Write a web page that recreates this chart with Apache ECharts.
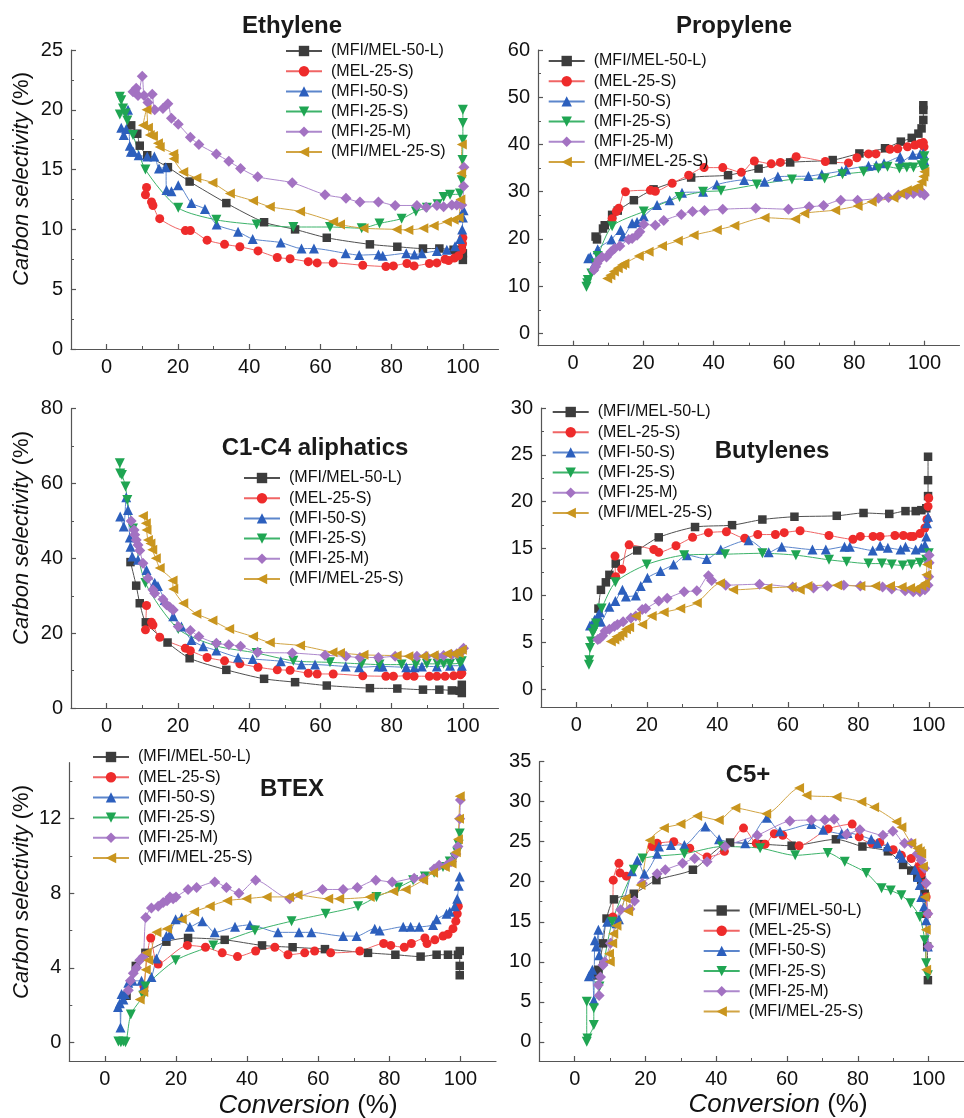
<!DOCTYPE html>
<html>
<head>
<meta charset="utf-8">
<script src="https://cdn.jsdelivr.net/npm/echarts@6/dist/echarts.min.js"></script>
<style>
html,body{margin:0;padding:0;background:#fff;}
#chart{width:964px;height:1118px;}
</style>
</head>
<body>
<div id="chart"></div>
<script>
// ---------------- DATA ----------------
const seriesNames = ['(MFI/MEL-50-L)', '(MEL-25-S)', '(MFI-50-S)', '(MFI-25-S)', '(MFI-25-M)', '(MFI/MEL-25-S)'];
const panelTitles = ['Ethylene', 'Propylene', 'C1-C4 aliphatics', 'Butylenes', 'BTEX', 'C5+'];
const xTickLabels = [0, 20, 40, 60, 80, 100];
const xMinorTicks = [10, 30, 50, 70, 90];
const yTicksEthylene = [0, 5, 10, 15, 20, 25];
const yTicksPropylene = [0, 10, 20, 30, 40, 50, 60];
const yTicksC1C4 = [0, 20, 40, 60, 80];
const yTicksButylenes = [0, 5, 10, 15, 20, 25, 30];
const yTicksBTEX = [0, 4, 8, 12];
const yTicksC5 = [0, 5, 10, 15, 20, 25, 30, 35];
const xAxisName = 'Conversion';
const yAxisName = 'Carbon selectivity';
const unitName = '(%)';

// Ethylene
const ethMFIMEL50L = [[6.9,18.7],[8.6,18.0],[9.3,17.0],[11.4,16.2],[17.2,15.2],[23.3,14.0],[33.6,12.2],[44.2,10.6],[52.9,10.0],[61.8,9.3],[73.9,8.75],[81.6,8.55],[88.8,8.4],[93.4,8.4],[97.4,8.3],[99.7,8.3],[100,8.0],[100,7.45]];
const ethMEL25S = [[11.2,13.5],[10.9,12.9],[12.6,12.3],[13.0,12.0],[14.9,10.9],[22.1,9.9],[23.5,9.9],[28.2,9.1],[33.1,8.75],[37.4,8.55],[42.5,8.2],[47.9,7.65],[51.5,7.55],[56.6,7.3],[59.1,7.2],[63.6,7.2],[71.9,7.0],[78.4,6.9],[80.5,6.95],[84.3,7.15],[86.3,6.95],[90.6,7.15],[92.7,7.2],[95.0,7.5],[96.0,7.4],[97.6,7.6],[98.8,7.8],[99.7,8.3],[99.9,8.8],[100,9.3]];
const ethMFI50S = [[4.1,18.5],[4.8,17.9],[5.5,18.4],[6.0,20.0],[6.5,17.0],[6.8,16.5],[7.5,16.5],[9.0,16.2],[11.4,16.1],[13.4,16.1],[14.7,15.1],[16.6,15.2],[16.8,13.3],[18.2,13.2],[20.1,13.7],[23.8,12.2],[27.6,11.7],[30.9,10.4],[36.9,9.8],[41.0,9.2],[48.9,8.9],[54.7,8.4],[58.2,8.4],[67.1,8.0],[70.9,7.85],[76.3,7.9],[77.5,7.8],[84.1,8.0],[86.4,7.9],[88.5,8.0],[92.7,8.2],[95.5,8.3],[97.8,8.6],[99.2,9.2],[99.8,10.0],[100,11.0],[100.2,11.6]];
const ethMFI25S = [[3.7,21.1],[4.1,20.8],[4.6,20.1],[3.7,19.6],[5.3,19.7],[5.8,19.1],[7.4,17.9],[10.9,15.0],[20.1,11.8],[30.8,10.8],[42.1,10.4],[52.4,10.2],[62.7,10.2],[71.6,10.1],[76.6,10.5],[82.8,10.9],[86.8,11.5],[89.9,11.8],[92.9,12.1],[94.6,12.7],[96.4,12.9],[99.2,13.0],[99.7,14.1],[99.9,15.8],[100,17.5],[100,18.9],[100,20.0]];
const ethMFI25M = [[7.4,21.5],[8.3,21.8],[8.8,21.2],[10.0,22.8],[10.5,21.2],[11.6,20.6],[12.8,21.3],[13.5,20.0],[15.8,20.1],[17.2,20.5],[18.2,19.3],[20.1,18.8],[23.5,17.7],[25.9,17.1],[30.8,16.3],[34.3,15.7],[37.6,15.1],[42.4,14.4],[52.1,13.9],[61.3,12.9],[67.2,12.6],[71.1,12.3],[76.3,12.3],[81.0,12.0],[87.1,12.0],[89.7,11.85],[92.7,12.0],[94.6,11.9],[96.9,12.05],[98.3,12.05],[99.7,12.05],[100.2,13.6],[100.3,15.2]];
const ethMFIMEL25S = [[10.2,18.7],[11.2,20.0],[11.6,18.5],[12.1,17.9],[13.0,17.8],[14.4,17.2],[14.9,16.9],[18.7,16.3],[18.8,15.9],[21.5,14.8],[25.2,14.3],[29.7,13.9],[34.6,13.0],[41.1,12.4],[45.8,11.9],[54.3,11.5],[63.6,10.65],[65.5,10.4],[72.1,10.1],[81.4,10.0],[84.7,9.95],[88.9,10.1],[91.8,10.3],[95.5,10.65],[97.4,10.8],[98.8,11.0],[99.3,12.5],[99.5,14.7],[99.7,17.1]];

// Propylene
const proMFIMEL50L = [[6.4,20.5],[6.8,19.9],[8.5,22.2],[9.0,22.9],[11.1,25.1],[12.7,26.0],[17.3,28.2],[22.9,30.5],[33.6,33.0],[44.1,33.5],[52.8,34.9],[61.8,36.2],[73.9,36.7],[81.5,38.1],[88.8,39.2],[93.3,40.6],[96.4,41.4],[98.3,42.3],[99.2,43.4],[99.7,45.2],[99.7,47.3],[99.7,48.3]];
const proMEL25S = [[11.1,24.3],[12.3,25.8],[13.0,26.5],[14.9,30.0],[22.0,30.3],[23.4,30.1],[28.2,31.8],[32.9,33.5],[37.3,35.1],[42.6,35.1],[47.9,34.1],[51.6,36.5],[56.4,35.9],[59.0,36.2],[63.5,37.4],[71.8,36.4],[78.4,36.1],[80.8,37.2],[84.1,38.0],[86.2,38.0],[90.2,39.0],[92.4,39.1],[95.2,39.5],[97.3,39.9],[98.8,40.2],[99.7,40.4],[99.9,39.5]];
const proMFI50S = [[4.3,15.9],[4.9,16.2],[5.7,14.1],[7.0,17.8],[10.9,19.9],[13.5,21.9],[14.2,20.5],[16.8,23.3],[18.2,23.6],[20.1,24.8],[23.9,27.2],[27.5,28.2],[31.0,29.8],[37.0,30.0],[40.9,31.5],[48.7,32.5],[54.5,32.1],[58.3,33.2],[67.0,33.3],[70.8,33.7],[76.5,34.4],[77.7,34.7],[84.1,35.5],[86.3,35.6],[88.5,36.0],[93.1,37.4],[93.3,36.3],[96.7,37.8],[98.8,38.0],[99.7,38.1],[99.9,36.7]];
const proMFI25S = [[3.8,9.9],[4.0,10.6],[4.2,11.3],[5.2,12.7],[6.4,14.8],[7.0,16.4],[11.1,22.7],[20.1,25.8],[30.3,28.9],[37.0,30.0],[42.1,30.2],[52.3,31.5],[62.3,32.6],[71.6,32.8],[76.7,33.7],[82.7,34.2],[86.9,34.9],[89.5,35.3],[92.9,34.9],[95.0,35.1],[96.9,35.1],[99.2,35.6],[100,36.0],[100,37.5],[100,34.6]];
const proMFI25M = [[5.9,13.4],[6.4,14.1],[6.8,14.8],[7.3,15.5],[8.2,16.2],[9.5,16.2],[10.8,17.3],[11.8,18.0],[13.3,18.5],[15.8,19.9],[16.8,20.1],[18.2,20.8],[19.0,21.5],[20.1,23.1],[23.4,22.9],[25.8,23.9],[30.8,25.2],[34.0,25.8],[37.4,26.0],[42.6,26.3],[52.0,26.5],[61.3,26.3],[67.2,26.8],[71.3,27.1],[76.2,28.2],[81.0,28.2],[86.9,28.6],[89.8,28.8],[92.6,29.3],[95.0,29.4],[96.9,29.6],[98.8,29.8],[99.7,29.6],[100,29.3]];
const proMFIMEL25S = [[9.7,11.6],[10.6,12.3],[11.6,13.1],[12.7,13.8],[13.9,14.5],[14.6,14.8],[18.7,16.4],[21.5,17.3],[25.3,18.5],[29.8,19.6],[34.3,20.8],[40.9,21.9],[45.9,22.8],[54.5,24.5],[63.2,24.2],[65.8,25.4],[74.6,26.1],[81.0,27.0],[85.0,27.9],[91.2,28.7],[93.1,29.6],[95.0,30.3],[96.9,30.7],[98.3,31.1],[99.2,32.1],[99.7,33.2],[100,34.2]];

// C1-C4 aliphatics
const aliMFIMEL50L = [[6.7,39.0],[8.3,32.7],[9.3,28.0],[11.0,22.9],[17.1,17.5],[23.3,13.3],[33.6,10.2],[44.2,7.8],[52.9,6.9],[61.8,6.0],[73.9,5.3],[81.6,5.2],[88.8,4.9],[93.4,4.9],[96.9,4.7],[99.1,4.6],[99.7,6.2],[99.7,4.0]];
const aliMEL25S = [[11.2,27.4],[10.9,20.9],[12.6,22.9],[13.0,22.2],[14.9,18.9],[22.1,16.0],[23.5,15.3],[28.2,13.5],[33.1,12.6],[37.4,11.8],[42.5,10.9],[47.9,10.2],[51.5,10.1],[56.6,9.3],[59.1,9.1],[63.6,9.1],[71.9,8.6],[78.4,8.5],[80.5,8.5],[84.3,8.6],[86.3,8.5],[90.6,8.5],[92.7,8.5],[95.0,8.5],[97.4,8.6],[99.3,8.9],[99.7,9.3]];
const aliMFI50S = [[3.8,51.2],[4.8,48.5],[5.5,56.3],[6.0,52.9],[6.5,45.6],[6.7,43.1],[7.2,40.5],[8.8,39.6],[11.2,36.9],[13.5,33.5],[14.4,32.6],[16.3,28.9],[18.7,24.5],[21.0,21.8],[23.8,18.2],[27.1,16.5],[30.8,15.4],[36.9,13.5],[41.0,13.1],[48.9,12.5],[54.7,11.6],[58.5,11.6],[67.1,11.1],[70.9,10.9],[76.3,11.1],[77.5,11.1],[84.1,10.9],[86.4,10.9],[88.5,11.1],[92.7,11.1],[96.4,11.3],[99.7,11.3]];
const aliMFI25S = [[3.7,65.4],[3.8,62.7],[4.3,62.3],[5.3,59.2],[5.8,55.6],[7.4,48.0],[10.9,33.4],[20.1,21.1],[30.8,16.6],[42.1,14.7],[52.4,12.6],[62.7,12.2],[71.6,11.8],[76.6,11.6],[82.8,11.6],[86.8,11.7],[89.9,11.8],[92.9,11.8],[94.6,11.8],[96.4,11.8],[99.2,12.0],[99.7,12.5]];
const aliMFI25M = [[6.9,50.0],[7.7,47.6],[7.9,46.3],[8.3,44.9],[8.8,43.6],[9.3,42.1],[10.2,38.7],[11.6,34.7],[13.0,31.6],[13.5,30.7],[15.8,29.1],[16.8,27.6],[17.7,27.0],[18.7,26.2],[20.1,21.8],[23.5,20.7],[25.9,19.1],[30.8,17.3],[34.3,16.9],[37.6,16.5],[42.4,14.9],[52.1,14.7],[61.3,14.1],[67.2,13.8],[71.1,13.5],[76.3,13.5],[81.0,13.8],[87.1,13.8],[89.7,13.8],[92.7,13.8],[94.6,14.0],[96.9,14.2],[98.3,14.5],[99.7,15.1],[100.2,16.0]];
const aliMFIMEL25S = [[10.2,51.3],[11.0,49.4],[11.2,47.6],[11.6,44.9],[12.3,44.0],[12.8,42.3],[13.8,40.0],[14.9,37.4],[18.5,34.1],[18.7,31.8],[21.5,28.0],[25.2,25.2],[29.7,23.4],[34.4,21.1],[41.1,19.1],[45.8,17.5],[54.3,16.7],[63.4,14.9],[65.5,14.7],[72.1,14.2],[81.4,14.0],[84.7,13.8],[88.9,13.8],[91.8,14.1],[95.5,14.5],[97.4,14.5],[98.8,14.7],[99.7,15.6]];

// Butylenes
const butMFIMEL50L = [[6.3,8.6],[7.0,10.6],[8.4,11.4],[9.4,12.2],[11.2,13.4],[17.3,14.8],[23.4,16.2],[33.7,17.3],[44.2,17.5],[52.8,18.1],[61.9,18.4],[73.9,18.5],[81.5,18.8],[88.8,18.7],[93.4,19.0],[96.3,19.0],[97.9,19.1],[99.3,19.3],[99.8,20.6],[99.8,22.3],[99.8,24.8]];
const butMEL25S = [[11.0,14.2],[11.2,12.0],[12.9,12.8],[15.0,15.4],[22.0,14.9],[23.4,14.6],[28.3,15.3],[33.0,16.2],[37.5,16.7],[42.6,16.8],[47.8,16.1],[51.5,16.5],[56.5,16.5],[59.0,16.7],[63.5,16.9],[71.7,16.4],[78.5,16.0],[80.6,16.3],[84.2,16.3],[86.2,16.3],[90.4,16.4],[92.8,16.4],[94.8,16.3],[95.6,16.3],[97.5,16.6],[98.9,17.2],[99.5,18.1],[99.8,19.5],[100,20.4]];
const butMFI50S = [[3.9,6.8],[4.7,7.0],[5.2,7.4],[6.1,7.8],[6.7,8.2],[7.0,7.2],[9.4,8.8],[11.1,9.4],[13.1,10.6],[14.1,9.9],[16.9,10.0],[18.3,11.0],[20.2,11.9],[23.9,12.6],[27.6,13.3],[31.4,14.3],[37.0,13.9],[41.0,14.9],[48.9,15.9],[54.6,14.6],[58.3,15.2],[67.0,14.9],[70.8,14.9],[76.1,15.2],[77.6,15.2],[84.1,14.8],[86.2,15.3],[88.4,15.1],[92.0,14.9],[93.4,15.2],[96.3,14.9],[97.9,15.1],[98.9,15.4],[99.3,16.3],[99.5,17.7],[99.8,18.4]];
const butMFI25S = [[3.6,2.6],[3.7,3.1],[3.9,4.4],[4.2,5.1],[4.7,6.0],[5.2,6.4],[5.6,7.0],[7.2,8.6],[11.1,11.4],[20.0,13.3],[30.6,14.3],[42.2,14.4],[52.8,14.5],[62.3,14.3],[71.7,13.8],[76.7,13.6],[82.9,13.4],[86.7,13.4],[89.5,13.3],[92.6,13.2],[95.1,13.3],[97.5,13.5],[99.3,13.8],[100,14.5]];
const butMFI25M = [[6.1,5.3],[6.7,5.4],[7.5,5.7],[8.2,6.2],[9.4,6.4],[10.8,6.7],[11.7,6.9],[13.3,7.2],[15.5,7.6],[16.9,7.8],[18.7,8.5],[19.7,8.6],[23.4,9.4],[25.8,9.7],[30.6,10.4],[34.2,10.5],[37.5,12.1],[38.4,11.6],[42.4,11.1],[52.0,11.2],[61.4,10.9],[67.3,10.8],[71.2,11.0],[75.9,11.1],[80.6,11.0],[86.9,10.9],[89.5,10.7],[93.3,10.5],[95.6,10.4],[97.5,10.4],[98.9,10.6],[99.8,11.1],[100,12.0],[100.1,13.5],[100.1,14.3]];
const butMFIMEL25S = [[9.8,5.1],[10.8,5.3],[11.4,5.6],[12.2,5.7],[13.1,6.0],[14.1,6.4],[15.0,6.6],[16.9,7.8],[18.7,6.9],[21.4,7.8],[24.8,8.2],[29.5,8.6],[34.2,9.2],[40.8,11.3],[44.5,10.6],[54.2,10.8],[61.1,10.9],[63.4,10.6],[65.6,11.0],[74.0,11.1],[80.6,11.0],[84.8,11.0],[89.0,11.0],[92.3,10.9],[94.7,10.8],[96.3,10.7],[97.9,11.0],[98.9,11.3],[99.3,12.2],[99.5,13.3]];

// BTEX
const btxMFIMEL50L = [[6.1,2.5],[8.7,4.1],[11.4,4.8],[17.3,5.4],[23.4,5.6],[33.7,5.5],[44.2,5.2],[52.8,5.1],[61.9,5.0],[74.0,4.8],[81.7,4.7],[88.8,4.6],[93.3,4.7],[96.5,4.7],[99.3,4.7],[99.8,4.9],[99.8,4.1],[99.8,3.6]];
const btxMEL25S = [[11.0,3.0],[12.9,5.6],[15.0,4.2],[23.2,5.2],[28.3,5.1],[33.0,4.8],[37.3,4.6],[42.4,4.9],[47.8,5.1],[51.5,4.7],[56.2,4.8],[59.0,4.9],[63.5,4.8],[71.7,4.9],[78.4,5.3],[80.4,5.2],[84.2,5.1],[86.2,5.3],[90.0,5.6],[90.6,5.3],[92.8,5.5],[95.1,5.7],[96.5,5.8],[97.9,6.1],[98.7,6.5],[99.1,6.9],[99.4,7.3]];
const btxMFI50S = [[3.7,1.9],[4.2,2.1],[4.4,0.8],[4.7,2.6],[5.2,2.3],[5.6,2.6],[6.6,3.2],[7.8,3.3],[10.3,3.3],[11.0,3.0],[13.1,3.5],[14.5,4.5],[17.3,5.7],[18.3,5.8],[19.9,6.6],[21.6,6.7],[23.9,6.2],[27.4,6.5],[30.9,5.9],[36.6,6.2],[40.8,6.3],[48.7,5.9],[54.6,5.9],[58.1,5.9],[67.0,5.7],[70.8,5.7],[75.9,6.1],[77.3,6.0],[83.9,6.2],[86.0,6.2],[88.4,6.2],[92.3,6.3],[93.3,6.6],[96.1,6.9],[97.0,7.0],[98.4,7.3],[99.1,7.7],[99.5,8.4],[99.8,8.9]];
const btxMFI25S = [[3.8,0.05],[4.5,0.0],[5.2,0.05],[5.8,0.0],[7.3,1.5],[10.8,2.5],[11.4,3.0],[19.9,4.4],[30.5,5.2],[42.2,6.0],[52.5,6.5],[62.1,6.9],[71.2,7.3],[76.4,7.8],[82.5,8.3],[86.7,8.7],[90.0,8.9],[92.6,9.1],[95.1,9.4],[97.0,9.7],[98.4,9.9],[99.1,10.2],[99.5,10.6],[99.8,11.2]];
const btxMFI25M = [[6.6,2.8],[7.2,3.3],[8.0,3.7],[8.9,4.0],[9.8,4.4],[10.8,4.6],[11.5,6.7],[13.1,7.2],[15.0,7.3],[16.4,7.5],[17.5,7.6],[18.3,7.8],[19.2,7.7],[20.0,7.8],[23.4,8.2],[25.8,8.3],[30.9,8.6],[34.2,8.3],[37.7,8.0],[42.4,8.7],[52.0,7.7],[61.2,8.2],[67.0,8.2],[71.0,8.3],[76.2,8.7],[80.8,8.6],[87.0,8.8],[89.5,8.8],[92.6,9.3],[94.0,9.5],[96.1,9.5],[97.5,9.7],[98.7,10.1],[99.3,10.5],[99.8,12.0],[100,13.0]];
const btxMFIMEL25S = [[9.8,2.3],[10.8,2.7],[11.5,3.9],[11.7,4.8],[12.2,4.4],[14.5,5.9],[17.5,6.1],[21.6,6.6],[25.1,7.0],[29.5,7.3],[34.4,7.6],[39.8,7.7],[45.5,7.8],[51.8,7.8],[54.2,7.9],[62.8,7.7],[65.9,7.7],[74.5,7.8],[81.1,8.1],[84.6,8.2],[89.5,8.7],[92.3,9.1],[95.6,9.4],[97.5,9.6],[98.7,10.2],[99.3,10.9],[99.6,12.0],[99.8,13.2]];

// C5+
const c5MFIMEL50L = [[6.4,8.3],[6.7,9.0],[8.0,12.3],[9.0,15.4],[11.1,17.8],[16.7,18.5],[23.1,20.2],[33.4,21.5],[43.9,24.9],[52.7,24.7],[61.3,24.5],[73.8,25.3],[81.3,24.4],[88.5,23.8],[92.8,22.1],[95.1,21.4],[96.8,20.6],[97.9,20.2],[98.9,18.5],[99.3,16.0],[99.6,11.9],[99.8,7.7]];
const c5MEL25S = [[10.8,15.6],[10.9,20.2],[12.5,22.3],[12.8,21.1],[14.6,20.7],[21.9,24.4],[23.3,24.8],[28.0,25.0],[32.5,24.2],[37.4,23.1],[42.3,23.8],[47.7,26.7],[51.3,24.8],[53.8,24.7],[56.4,26.0],[58.8,25.8],[63.4,24.5],[71.6,26.6],[78.4,27.2],[80.4,25.6],[84.0,24.8],[86.2,24.9],[90.0,24.0],[92.3,23.3],[95.1,22.9],[97.2,21.9],[97.9,21.0],[98.9,19.8],[99.3,18.1],[99.6,16.0]];
const c5MFI50S = [[4.0,8.2],[4.5,8.5],[5.0,9.0],[5.4,5.2],[5.7,12.7],[6.1,11.9],[6.7,14.0],[6.9,10.8],[9.2,15.0],[11.8,14.8],[12.5,15.3],[16.2,21.3],[17.7,22.7],[19.7,21.0],[23.3,23.5],[23.8,24.4],[27.2,24.6],[31.0,24.6],[36.9,26.9],[40.8,25.3],[48.2,24.8],[54.3,28.0],[58.0,26.3],[66.9,27.2],[70.2,26.5],[75.4,26.0],[77.1,26.1],[83.8,25.3],[85.5,24.8],[88.4,24.4],[91.8,23.5],[92.5,23.0],[96.1,21.5],[97.0,20.6],[97.5,19.6],[97.9,18.1],[98.7,16.9],[99.3,15.2],[99.8,11.9]];
const c5MFI25S = [[3.4,5.0],[3.4,0.0],[3.6,0.4],[5.4,2.1],[5.4,4.2],[7.0,6.9],[10.6,15.0],[16.7,21.5],[19.2,22.9],[31.0,23.5],[41.6,24.4],[52.4,24.2],[62.3,23.3],[71.5,23.6],[76.3,22.5],[82.4,21.1],[86.7,19.2],[89.3,18.9],[92.3,18.3],[94.9,17.3],[97.5,15.6],[98.9,12.7],[99.3,9.8],[99.8,8.3]];
const c5MFI25M = [[6.9,5.8],[6.7,7.1],[7.3,8.1],[8.0,9.6],[8.5,10.0],[10.1,12.3],[13.0,16.5],[15.6,16.6],[16.9,17.6],[19.1,19.8],[23.3,21.0],[25.6,21.5],[30.5,22.3],[33.9,22.9],[37.4,22.5],[42.5,24.4],[51.6,25.8],[60.8,27.6],[66.9,27.7],[70.7,27.7],[73.3,27.8],[76.8,25.9],[80.6,26.5],[87.1,25.8],[89.9,26.3],[93.2,24.8],[95.1,24.8],[96.8,23.5],[97.9,22.7],[98.9,21.7],[99.3,19.8],[99.8,16.0],[100,11.9]];
const c5MFIMEL25S = [[9.9,10.0],[9.7,11.0],[10.6,12.3],[10.9,13.5],[11.8,14.5],[14.4,17.9],[15.1,16.3],[18.6,19.6],[21.2,25.2],[25.2,26.7],[29.9,27.2],[34.6,28.2],[40.7,27.7],[45.4,29.2],[54.1,28.5],[63.4,31.7],[65.5,30.8],[74.0,30.6],[81.0,30.0],[84.6,29.3],[90.9,27.5],[92.3,26.8],[95.1,24.8],[96.8,24.2],[97.5,23.8],[97.9,23.5],[98.4,21.9],[98.9,18.1],[99.2,14.0],[99.3,9.0]];

// ---------------- STRUCTURE ----------------
const panelData = [
  [ethMFIMEL50L, ethMEL25S, ethMFI50S, ethMFI25S, ethMFI25M, ethMFIMEL25S],
  [proMFIMEL50L, proMEL25S, proMFI50S, proMFI25S, proMFI25M, proMFIMEL25S],
  [aliMFIMEL50L, aliMEL25S, aliMFI50S, aliMFI25S, aliMFI25M, aliMFIMEL25S],
  [butMFIMEL50L, butMEL25S, butMFI50S, butMFI25S, butMFI25M, butMFIMEL25S],
  [btxMFIMEL50L, btxMEL25S, btxMFI50S, btxMFI25S, btxMFI25M, btxMFIMEL25S],
  [c5MFIMEL50L, c5MEL25S, c5MFI50S, c5MFI25S, c5MFI25M, c5MFIMEL25S]
];
const panelYTicks = [yTicksEthylene, yTicksPropylene, yTicksC1C4, yTicksButylenes, yTicksBTEX, yTicksC5];

// ---------------- LAYOUT & STYLE ----------------
const FONT = '"Liberation Sans", Arial, Helvetica, sans-serif';
const layout = [
  {left:71,    top:50,    width:427.5, height:299,   ymin:0,    ymax:25, legend:[285, 41],    title:[292, 26]},
  {left:538,   top:50,    width:421.5, height:295.7, ymin:-2.6, ymax:60, legend:[547.7, 51],  title:[734, 26]},
  {left:71,    top:408.7, width:427.5, height:299.3, ymin:0,    ymax:80, legend:[243, 468],   title:[315, 448]},
  {left:541,   top:408,   width:427,   height:299,   ymin:-1.9, ymax:30, legend:[551.7, 402], title:[772, 451]},
  {left:69.3,  top:762.7, width:426.7, height:298.3, ymin:-1,   ymax:15, legend:[92, 747],    title:[292, 789]},
  {left:539.3, top:761.7, width:426,   height:299.3, ymin:-2.4, ymax:35, legend:[702.7, 900.5], title:[748, 775]}
];
const markerColors = ['#3c3c3c', '#ee2b2b', '#2c5fbd', '#1fa552', '#a372c2', '#c9951e'];
const lineColors   = ['#505050', '#f06565', '#5c86cc', '#3db36a', '#ad88cc', '#d1a443'];
const symbols      = ['rect', 'circle', 'triangle', 'triangle', 'diamond', 'triangle'];
const symbolRot    = [0, 0, 0, 180, 0, 90];
const symbolSizes  = [8.5, 9, 10, 10, 11, 10];
const minorY = ticks => {
  const out = [];
  const step = ticks[1] - ticks[0];
  for (let i = 0; i < ticks.length; i++) out.push(ticks[i] + step / 2);
  return out;
};

const grid = [], xAxis = [], yAxis = [], series = [], legend = [], graphic = [];
const axisColor = '#555';
layout.forEach((L, p) => {
  grid.push({left: L.left, top: L.top, width: L.width, height: L.height, containLabel: false});
  xAxis.push({
    type: 'value', gridIndex: p, min: -10, max: 110,
    axisLine: {show: true, onZero: false, lineStyle: {color: axisColor, width: 1.2}},
    axisTick: {show: true, inside: true, length: 5, customValues: xTickLabels, lineStyle: {color: axisColor, width: 1.2}},
    axisLabel: {show: true, customValues: xTickLabels, fontSize: 20, color: '#111', fontFamily: FONT, margin: 8},
    splitLine: {show: false}
  });
  yAxis.push({
    type: 'value', gridIndex: p, min: L.ymin, max: L.ymax,
    axisLine: {show: true, onZero: false, lineStyle: {color: axisColor, width: 1.2}},
    axisTick: {show: true, inside: true, length: 5, customValues: panelYTicks[p], lineStyle: {color: axisColor, width: 1.2}},
    axisLabel: {show: true, customValues: panelYTicks[p], fontSize: 20, color: '#111', fontFamily: FONT, margin: 8},
    splitLine: {show: false}
  });
});
// minor tick axes (same scales, ticks only)
layout.forEach((L, p) => {
  const yMinor = minorY(panelYTicks[p]).filter(v => v < L.ymax);
  xAxis.push({
    type: 'value', gridIndex: p, min: -10, max: 110, position: 'bottom',
    axisLine: {show: false, onZero: false},
    axisTick: {show: true, inside: true, length: 3, customValues: xMinorTicks, lineStyle: {color: axisColor, width: 1}},
    axisLabel: {show: false}, splitLine: {show: false}
  });
  yAxis.push({
    type: 'value', gridIndex: p, min: L.ymin, max: L.ymax, position: 'left',
    axisLine: {show: false, onZero: false},
    axisTick: {show: true, inside: true, length: 3, customValues: yMinor, lineStyle: {color: axisColor, width: 1}},
    axisLabel: {show: false}, splitLine: {show: false}
  });
});

panelData.forEach((sets, p) => {
  sets.forEach((d, s) => {
    series.push({
      type: 'line', name: seriesNames[s], xAxisIndex: p, yAxisIndex: p,
      data: d, smooth: 0.25, showSymbol: true, symbol: symbols[s], symbolRotate: symbolRot[s],
      symbolSize: symbolSizes[s],
      lineStyle: {color: lineColors[s], width: 1},
      itemStyle: {color: markerColors[s]},
      emphasis: {disabled: true}, clip: true
    });
  });
  const L = layout[p];
  legend.push({
    data: seriesNames, orient: 'vertical', left: L.legend[0], top: L.legend[1], padding: 0,
    itemWidth: 36, itemHeight: 13, itemGap: 0.2, selectedMode: false,
    textStyle: {fontSize: 16, lineHeight: 20, color: '#111', fontFamily: FONT, padding: [0, 0, 0, 4]}
  });
  graphic.push({
    type: 'text', x: L.title[0], y: L.title[1],
    style: {text: panelTitles[p], font: 'bold 24px ' + FONT, fill: '#1a1a1a', textAlign: 'center', textVerticalAlign: 'middle'}
  });
});

const richName = {
  i: {fontStyle: 'italic', fontSize: 22, fontFamily: FONT, fill: '#111', color: '#111'},
  n: {fontStyle: 'normal', fontSize: 22, fontFamily: FONT, fill: '#111', color: '#111'}
};
const richX = {
  i: {fontStyle: 'italic', fontSize: 26, fontFamily: FONT, fill: '#111', color: '#111'},
  n: {fontStyle: 'normal', fontSize: 26, fontFamily: FONT, fill: '#111', color: '#111'}
};
[[22, 179], [22, 538], [22, 892]].forEach(pos => {
  graphic.push({
    type: 'text', x: pos[0], y: pos[1], rotation: Math.PI / 2,
    style: {text: '{i|' + yAxisName + '} {n|' + unitName + '}', rich: richName, fill: '#111',
            font: '22px ' + FONT, textAlign: 'center', textVerticalAlign: 'middle'}
  });
});
[[308, 1106], [778, 1105]].forEach(pos => {
  graphic.push({
    type: 'text', x: pos[0], y: pos[1],
    style: {text: '{i|' + xAxisName + '} {n|' + unitName + '}', rich: richX, fill: '#111',
            font: '26px ' + FONT, textAlign: 'center', textVerticalAlign: 'middle'}
  });
});

const chart = echarts.init(document.getElementById('chart'), null, {renderer: 'canvas'});
chart.setOption({
  animation: false,
  backgroundColor: '#fff',
  textStyle: {fontFamily: FONT},
  grid, xAxis, yAxis, series, legend, graphic
});
</script>
</body>
</html>
